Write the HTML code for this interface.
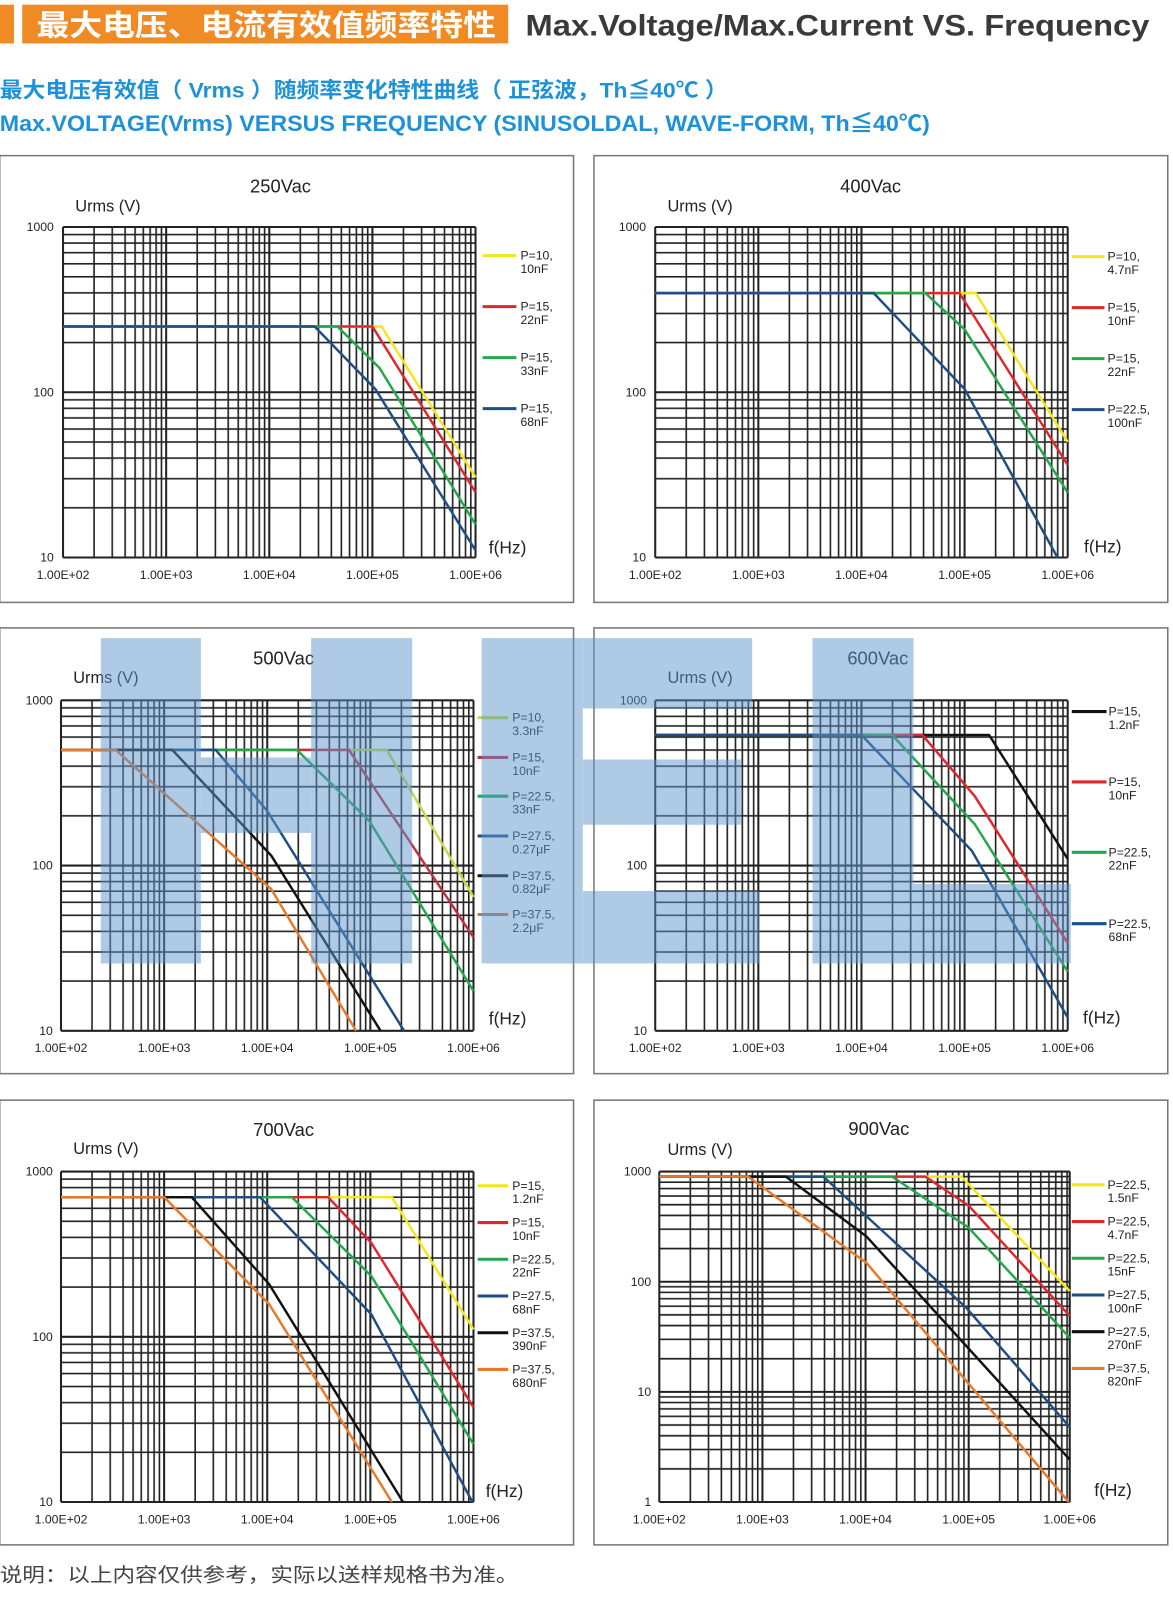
<!DOCTYPE html>
<html><head><meta charset="utf-8"><style>
html,body{margin:0;padding:0;background:#fff;}
svg{display:block;}
text{font-family:"Liberation Sans","Noto Sans CJK SC",sans-serif;}
</style></head><body>
<svg width="1173" height="1600" viewBox="0 0 1173 1600" xmlns="http://www.w3.org/2000/svg">
<defs>
<pattern id="vx" patternUnits="userSpaceOnUse" width="101" height="20">
<path d="M30.4 0V20M48.2 0V20M60.8 0V20M70.6 0V20M78.6 0V20M85.3 0V20M91.2 0V20M96.4 0V20" stroke="#222" stroke-width="1.6"/>
</pattern>
<pattern id="h162" patternUnits="userSpaceOnUse" width="20" height="162">
<path d="M0 113.2H20M0 84.7H20M0 64.5H20M0 48.8H20M0 36H20M0 25.1H20M0 15.7H20M0 7.4H20" stroke="#222" stroke-width="1.6"/>
</pattern>
<pattern id="h108" patternUnits="userSpaceOnUse" width="20" height="108">
<path d="M0 75.5H20M0 56.5H20M0 43H20M0 32.5H20M0 24H20M0 16.7H20M0 10.5H20M0 5H20" stroke="#222" stroke-width="1.6"/>
</pattern>
</defs>
<g transform="matrix(1.021,0,0,1.02,-2.3,0.6)">
<rect x="2" y="4" width="14" height="38" fill="#f08a24"/>
<rect x="24" y="4" width="476" height="38" fill="#f08a24"/>
<text x="38" y="34" font-size="29" font-weight="bold" fill="#fff" textLength="450" lengthAdjust="spacingAndGlyphs">最大电压、电流有效值频率特性</text>
<text x="517" y="34" font-size="29" font-weight="bold" fill="#3a3a3a" textLength="611" lengthAdjust="spacingAndGlyphs">Max.Voltage/Max.Current VS. Frequency</text>
<text x="2" y="95" font-size="21" font-weight="bold" fill="#1d92d8" textLength="713" lengthAdjust="spacingAndGlyphs">最大电压有效值（ Vrms ）随频率变化特性曲线（ 正弦波，Th≦40℃ ）</text>
<text x="2" y="128" font-size="22" font-weight="bold" fill="#1d92d8" textLength="911" lengthAdjust="spacingAndGlyphs">Max.VOLTAGE(Vrms) VERSUS FREQUENCY (SINUSOLDAL, WAVE-FORM, Th≦40℃)</text>

<g fill="none" stroke="#777" stroke-width="1.5">
<rect x="2" y="152" width="562" height="438"/>
<rect x="584" y="152" width="562" height="438"/>
<rect x="2" y="615" width="562" height="437"/>
<rect x="584" y="615" width="562" height="437"/>
<rect x="2" y="1078" width="562" height="436"/>
<rect x="584" y="1078" width="562" height="436"/>
</g>

<g font-size="18" fill="#222" text-anchor="middle">
<text x="277" y="188">250Vac</text><text x="855" y="188">400Vac</text>
<text x="280" y="651">500Vac</text><text x="862" y="651">600Vac</text>
<text x="280" y="1113">700Vac</text><text x="863" y="1112">900Vac</text>
</g>
<g font-size="16" fill="#222">
<text x="76" y="207">Urms (V)</text><text x="656" y="207">Urms (V)</text>
<text x="74" y="669">Urms (V)</text><text x="656" y="669">Urms (V)</text>
<text x="74" y="1131">Urms (V)</text><text x="656" y="1132">Urms (V)</text>
</g>
<g font-size="17" fill="#222">
<text x="481" y="542">f(Hz)</text><text x="1064" y="541">f(Hz)</text>
<text x="481" y="1004">f(Hz)</text><text x="1063" y="1003">f(Hz)</text>
<text x="478" y="1467">f(Hz)</text><text x="1074" y="1466">f(Hz)</text>
</g>

<!-- Chart 1 -->
<g transform="translate(64,222)">
<rect width="404" height="324" fill="url(#vx)"/><rect width="404" height="324" fill="url(#h162)"/>
<path d="M0 0V324M101 0V324M202 0V324M303 0V324M404 0V324M0 0H404M0 162H404M0 324H404" stroke="#222" stroke-width="2" fill="none"/>
<g fill="none" stroke-width="2.4" stroke-linejoin="round">
<path d="M0 97.5H312L404 245.3" stroke="#f5e61a"/>
<path d="M0 97.5H303L404 260" stroke="#e0262b"/>
<path d="M0 97.5H268.7L310 138.2L404 291.6" stroke="#22a84a"/>
<path d="M0 97.5H246.4L306 159L404 317" stroke="#1f4e85"/>
</g>
<g font-size="12" fill="#222" text-anchor="end"><text x="-9" y="4">1000</text><text x="-9" y="166">100</text><text x="-9" y="328">10</text></g>
<g font-size="12" fill="#222" text-anchor="middle"><text x="0" y="345">1.00E+02</text><text x="101" y="345">1.00E+03</text><text x="202" y="345">1.00E+04</text><text x="303" y="345">1.00E+05</text><text x="404" y="345">1.00E+06</text></g>
</g>
<g font-size="12" fill="#222">
<path d="M475 250H508" stroke="#f5e61a" stroke-width="3"/><text x="512" y="254">P=10,</text><text x="512" y="267">10nF</text>
<path d="M475 300H508" stroke="#e0262b" stroke-width="3"/><text x="512" y="304">P=15,</text><text x="512" y="317">22nF</text>
<path d="M475 350H508" stroke="#22a84a" stroke-width="3"/><text x="512" y="354">P=15,</text><text x="512" y="367">33nF</text>
<path d="M475 400H508" stroke="#1f4e85" stroke-width="3"/><text x="512" y="404">P=15,</text><text x="512" y="417">68nF</text>
</g>

<!-- Chart 2 -->
<g transform="translate(644,222)">
<rect width="404" height="324" fill="url(#vx)"/><rect width="404" height="324" fill="url(#h162)"/>
<path d="M0 0V324M101 0V324M202 0V324M303 0V324M404 0V324M0 0H404M0 162H404M0 324H404" stroke="#222" stroke-width="2" fill="none"/>
<g fill="none" stroke-width="2.4" stroke-linejoin="round">
<path d="M0 64.8H314L404 210.6" stroke="#f5e61a"/>
<path d="M0 64.8H298L404 233.3" stroke="#e0262b"/>
<path d="M0 64.8H264.6L303 100.4L404 260.4" stroke="#22a84a"/>
<path d="M0 64.8H214L303 158.8L394 324" stroke="#1f4e85"/>
</g>
<g font-size="12" fill="#222" text-anchor="end"><text x="-9" y="4">1000</text><text x="-9" y="166">100</text><text x="-9" y="328">10</text></g>
<g font-size="12" fill="#222" text-anchor="middle"><text x="0" y="345">1.00E+02</text><text x="101" y="345">1.00E+03</text><text x="202" y="345">1.00E+04</text><text x="303" y="345">1.00E+05</text><text x="404" y="345">1.00E+06</text></g>
</g>
<g font-size="12" fill="#222">
<path d="M1052 251H1084" stroke="#f5e61a" stroke-width="3"/><text x="1087" y="255">P=10,</text><text x="1087" y="268">4.7nF</text>
<path d="M1052 301H1084" stroke="#e0262b" stroke-width="3"/><text x="1087" y="305">P=15,</text><text x="1087" y="318">10nF</text>
<path d="M1052 351H1084" stroke="#22a84a" stroke-width="3"/><text x="1087" y="355">P=15,</text><text x="1087" y="368">22nF</text>
<path d="M1052 401H1084" stroke="#1f4e85" stroke-width="3"/><text x="1087" y="405">P=22.5,</text><text x="1087" y="418">100nF</text>
</g>

<!-- Chart 3 -->
<g transform="translate(62,686)">
<rect width="404" height="324" fill="url(#vx)"/><rect width="404" height="324" fill="url(#h162)"/>
<path d="M0 0V324M101 0V324M202 0V324M303 0V324M404 0V324M0 0H404M0 162H404M0 324H404" stroke="#222" stroke-width="2" fill="none"/>
<g fill="none" stroke-width="2.4" stroke-linejoin="round">
<path d="M0 48.6H319L404 192.8" stroke="#c8d84a"/>
<path d="M0 48.6H282L404 232.5" stroke="#c0303e"/>
<path d="M0 48.6H231L302 118.3L404 285" stroke="#22a84a"/>
<path d="M0 48.6H151.5L202 108.5L336 324" stroke="#1f4e85"/>
<path d="M0 48.6H109L206 152.3L313 324" stroke="#111"/>
<path d="M0 48.6H53.5L206 185.2L289 324" stroke="#e8782a"/>
</g>
<g font-size="12" fill="#222" text-anchor="end"><text x="-8" y="4">1000</text><text x="-8" y="166">100</text><text x="-8" y="328">10</text></g>
<g font-size="12" fill="#222" text-anchor="middle"><text x="0" y="345">1.00E+02</text><text x="101" y="345">1.00E+03</text><text x="202" y="345">1.00E+04</text><text x="303" y="345">1.00E+05</text><text x="404" y="345">1.00E+06</text></g>
</g>
<g font-size="12" fill="#222">
<path d="M470 703H500" stroke="#c8d84a" stroke-width="3"/><text x="504" y="707">P=10,</text><text x="504" y="720">3.3nF</text>
<path d="M470 742H500" stroke="#c0303e" stroke-width="3"/><text x="504" y="746">P=15,</text><text x="504" y="759">10nF</text>
<path d="M470 780H500" stroke="#22a84a" stroke-width="3"/><text x="504" y="784">P=22.5,</text><text x="504" y="797">33nF</text>
<path d="M470 819H500" stroke="#1f4e85" stroke-width="3"/><text x="504" y="823">P=27.5,</text><text x="504" y="836">0.27μF</text>
<path d="M470 858H500" stroke="#111" stroke-width="3"/><text x="504" y="862">P=37.5,</text><text x="504" y="875">0.82μF</text>
<path d="M470 896H500" stroke="#b87a4a" stroke-width="3"/><text x="504" y="900">P=37.5,</text><text x="504" y="913">2.2μF</text>
</g>

<!-- Chart 4 -->
<g transform="translate(644,686)">
<rect width="404" height="324" fill="url(#vx)"/><rect width="404" height="324" fill="url(#h162)"/>
<path d="M0 0V324M101 0V324M202 0V324M303 0V324M404 0V324M0 0H404M0 162H404M0 324H404" stroke="#222" stroke-width="2" fill="none"/>
<g fill="none" stroke-width="2.4" stroke-linejoin="round">
<path d="M0 34H327L404 155.5" stroke="#111"/>
<path d="M0 34H261.6L313 94L404 238" stroke="#e0262b"/>
<path d="M0 34H232L313 121.5L404 266" stroke="#22a84a"/>
<path d="M0 34H202L310 147.4L404 311" stroke="#1f4e85"/>
</g>
<g font-size="12" fill="#222" text-anchor="end"><text x="-8" y="4">1000</text><text x="-8" y="166">100</text><text x="-8" y="328">10</text></g>
<g font-size="12" fill="#222" text-anchor="middle"><text x="0" y="345">1.00E+02</text><text x="101" y="345">1.00E+03</text><text x="202" y="345">1.00E+04</text><text x="303" y="345">1.00E+05</text><text x="404" y="345">1.00E+06</text></g>
</g>
<g font-size="12" fill="#222">
<path d="M1052 697H1086" stroke="#111" stroke-width="3"/><text x="1088" y="701">P=15,</text><text x="1088" y="714">1.2nF</text>
<path d="M1052 766H1086" stroke="#e0262b" stroke-width="3"/><text x="1088" y="770">P=15,</text><text x="1088" y="783">10nF</text>
<path d="M1052 835H1086" stroke="#22a84a" stroke-width="3"/><text x="1088" y="839">P=22.5,</text><text x="1088" y="852">22nF</text>
<path d="M1052 905H1086" stroke="#1f4e85" stroke-width="3"/><text x="1088" y="909">P=22.5,</text><text x="1088" y="922">68nF</text>
</g>

<!-- Chart 5 -->
<g transform="translate(62,1148)">
<rect width="404" height="324" fill="url(#vx)"/><rect width="404" height="324" fill="url(#h162)"/>
<path d="M0 0V324M101 0V324M202 0V324M303 0V324M404 0V324M0 0H404M0 162H404M0 324H404" stroke="#222" stroke-width="2" fill="none"/>
<g fill="none" stroke-width="2.4" stroke-linejoin="round">
<path d="M0 25.1H324L404 154.7" stroke="#f5e61a"/>
<path d="M0 25.1H261.6L304 70L404 231.2" stroke="#e0262b"/>
<path d="M0 25.1H226L304 102.5L404 267.3" stroke="#22a84a"/>
<path d="M0 25.1H195L304 140L403 324" stroke="#1f4e85"/>
<path d="M0 25.1H128L204 110.6L335 324" stroke="#111"/>
<path d="M0 25.1H101L204 130.2L324 324" stroke="#e8782a"/>
</g>
<g font-size="12" fill="#222" text-anchor="end"><text x="-8" y="4">1000</text><text x="-8" y="166">100</text><text x="-8" y="328">10</text></g>
<g font-size="12" fill="#222" text-anchor="middle"><text x="0" y="345">1.00E+02</text><text x="101" y="345">1.00E+03</text><text x="202" y="345">1.00E+04</text><text x="303" y="345">1.00E+05</text><text x="404" y="345">1.00E+06</text></g>
</g>
<g font-size="12" fill="#222">
<path d="M470 1162H500" stroke="#f5e61a" stroke-width="3"/><text x="504" y="1166">P=15,</text><text x="504" y="1179">1.2nF</text>
<path d="M470 1198H500" stroke="#e0262b" stroke-width="3"/><text x="504" y="1202">P=15,</text><text x="504" y="1215">10nF</text>
<path d="M470 1234H500" stroke="#22a84a" stroke-width="3"/><text x="504" y="1238">P=22.5,</text><text x="504" y="1251">22nF</text>
<path d="M470 1270H500" stroke="#1f4e85" stroke-width="3"/><text x="504" y="1274">P=27.5,</text><text x="504" y="1287">68nF</text>
<path d="M470 1306H500" stroke="#111" stroke-width="3"/><text x="504" y="1310">P=37.5,</text><text x="504" y="1323">390nF</text>
<path d="M470 1342H500" stroke="#e8782a" stroke-width="3"/><text x="504" y="1346">P=37.5,</text><text x="504" y="1359">680nF</text>
</g>

<!-- Chart 6 -->
<g transform="translate(648,1148)">
<rect width="402" height="324" fill="url(#vx)"/><rect width="402" height="324" fill="url(#h108)"/>
<path d="M0 0V324M101 0V324M202 0V324M303 0V324M402 0V324M0 0H402M0 108H402M0 216H402M0 324H402" stroke="#222" stroke-width="2" fill="none"/>
<g fill="none" stroke-width="2.4" stroke-linejoin="round">
<path d="M0 5H296L402 117.2" stroke="#f5e61a"/>
<path d="M0 5H260.6L303 33.5L402 141.5" stroke="#e0262b"/>
<path d="M0 5H228L303 55L402 163" stroke="#22a84a"/>
<path d="M0 5H160.6L301 133.9L402 250.6" stroke="#1f4e85"/>
<path d="M0 5H124L203 63.7L402 282.4" stroke="#111"/>
<path d="M0 5H87L203 89.6L401 324" stroke="#e8782a"/>
</g>
<g font-size="12" fill="#222" text-anchor="end"><text x="-8" y="4">1000</text><text x="-8" y="112">100</text><text x="-8" y="220">10</text><text x="-8" y="328">1</text></g>
<g font-size="12" fill="#222" text-anchor="middle"><text x="0" y="345">1.00E+02</text><text x="101" y="345">1.00E+03</text><text x="202" y="345">1.00E+04</text><text x="303" y="345">1.00E+05</text><text x="402" y="345">1.00E+06</text></g>
</g>
<g font-size="12" fill="#222">
<path d="M1052 1161H1084" stroke="#f5e61a" stroke-width="3"/><text x="1087" y="1165">P=22.5,</text><text x="1087" y="1178">1.5nF</text>
<path d="M1052 1197H1084" stroke="#e0262b" stroke-width="3"/><text x="1087" y="1201">P=22.5,</text><text x="1087" y="1214">4.7nF</text>
<path d="M1052 1233H1084" stroke="#22a84a" stroke-width="3"/><text x="1087" y="1237">P=22.5,</text><text x="1087" y="1250">15nF</text>
<path d="M1052 1269H1084" stroke="#1f4e85" stroke-width="3"/><text x="1087" y="1273">P=27.5,</text><text x="1087" y="1286">100nF</text>
<path d="M1052 1305H1084" stroke="#111" stroke-width="3"/><text x="1087" y="1309">P=27.5,</text><text x="1087" y="1322">270nF</text>
<path d="M1052 1341H1084" stroke="#e8782a" stroke-width="3"/><text x="1087" y="1345">P=37.5,</text><text x="1087" y="1358">820nF</text>
</g>

<g fill="rgb(96,150,205)" opacity="0.5">
<rect x="101" y="625" width="98" height="319"/>
<rect x="307" y="625" width="99" height="319"/>
<rect x="199" y="742" width="108" height="74"/>
<rect x="474" y="625" width="99" height="319"/>
<rect x="573" y="625" width="166" height="69"/>
<rect x="573" y="744" width="155" height="64"/>
<rect x="573" y="873" width="173" height="71"/>
<rect x="798" y="625" width="99" height="319"/>
<rect x="897" y="866" width="154" height="78"/>
</g>

<text x="2" y="1550" font-size="19" fill="#444" textLength="508" lengthAdjust="spacingAndGlyphs">说明：以上内容仅供参考，实际以送样规格书为准。</text>
</g>
</svg>
</body></html>
